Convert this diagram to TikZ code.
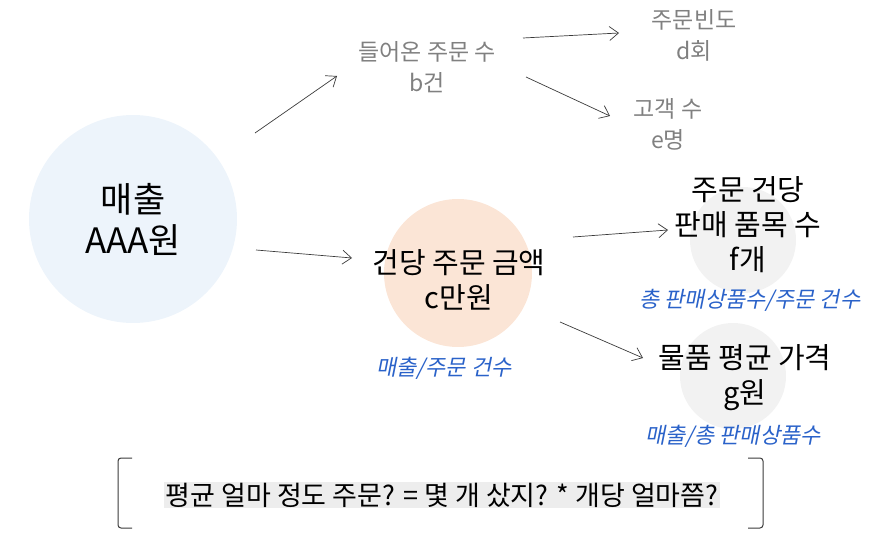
\documentclass[tikz,border=0pt]{standalone}
\usepackage{fontspec}
\setmainfont{Noto Sans CJK KR}
\newfontfamily\krslant[FakeSlant=0.2]{Noto Sans CJK KR}
\usepackage{xcolor}
\usetikzlibrary{arrows.meta,positioning}
\definecolor{kpsky}{HTML}{EDF4FB}
\definecolor{kppeach}{HTML}{FBE5D6}
\definecolor{kpmist}{HTML}{F2F2F2}
\definecolor{kpgrey}{HTML}{808080}
\definecolor{kpblue}{HTML}{2A62C9}
\definecolor{kpink}{HTML}{3A3A3A}
\definecolor{kpshade}{HTML}{EDEDED}

\begin{document}
\begin{tikzpicture}[x=1pt,y=-1pt,
  big/.style={align=center,font=\fontsize{35}{41}\selectfont},
  main/.style={align=center,font=\fontsize{29}{35}\selectfont},
  sub/.style={align=center,text=kpgrey,font=\fontsize{23}{31}\selectfont},
  note/.style={text=kpblue,font=\krslant\fontsize{22}{24}\selectfont},
  arr/.style={-{Straight Barb[length=9pt,width=14pt]},line width=0.7pt,draw=kpink},
  brk/.style={draw=kpink,line width=1pt,rounded corners=3pt},
]
\useasboundingbox (0,0) rectangle (881,537);

\fill[kpsky] (133,219) circle (104);
\fill[kppeach] (458,273) circle (74);
\fill[kpmist] (743,240) circle (53);
\fill[kpmist] (733,376) circle (53);

\node[big] (sales) at (133,219) {매출\\AAA원};
\node[sub] (orders) at (427,67) {들어온 주문 수\\b건};
\node[sub] (freq) at (694,35) {주문빈도\\d회};
\node[sub] (cust) at (668,124) {고객 수\\e명};
\node[main] (unit) at (459,280) {건당 주문 금액\\c만원};
\node[main] (items) at (748,225) {주문 건당\\판매 품목 수\\f개};
\node[main] (price) at (745,378) {물품 평균 가격\\g원};

\node[note] (unitnote) at (444,368) {매출/주문 건수};
\node[note] (itemsnote) at (750,300) {총 판매상품수/주문 건수};
\node[note] (pricenote) at (733,436) {매출/총 판매상품수};

\node[fill=kpshade,inner xsep=2pt,inner ysep=1pt,font=\fontsize{27}{30}\selectfont] (ask) at (442,495)
  {평균 얼마 정도 주문? = 몇 개 샀지? * 개당 얼마쯤?};

\draw[arr] ([shift={(122,-86)}]sales.center) -- ([shift={(-90,9)}]orders.center);
\draw[arr] ([shift={(96,-29)}]orders.center) -- ([shift={(-75,-2)}]freq.center);
\draw[arr] ([shift={(99,10)}]orders.center) -- ([shift={(-58,-8)}]cust.center);
\draw[arr] ([shift={(123,31)}]sales.center) -- ([shift={(-107,-22)}]unit.center);
\draw[arr] ([shift={(114,-43)}]unit.center) -- ([shift={(-80,5)}]items.center);
\draw[arr] ([shift={(101,42)}]unit.center) -- ([shift={(-102,-20)}]price.center);

\draw[brk] ([shift={(-310,-37)}]ask.center) -- ([shift={(-324,-37)}]ask.center)
  -- ([shift={(-324,33)}]ask.center) -- ([shift={(-310,33)}]ask.center);
\draw[brk] ([shift={(306,-37)}]ask.center) -- ([shift={(321,-37)}]ask.center)
  -- ([shift={(321,33)}]ask.center) -- ([shift={(306,33)}]ask.center);
\end{tikzpicture}
\end{document}
